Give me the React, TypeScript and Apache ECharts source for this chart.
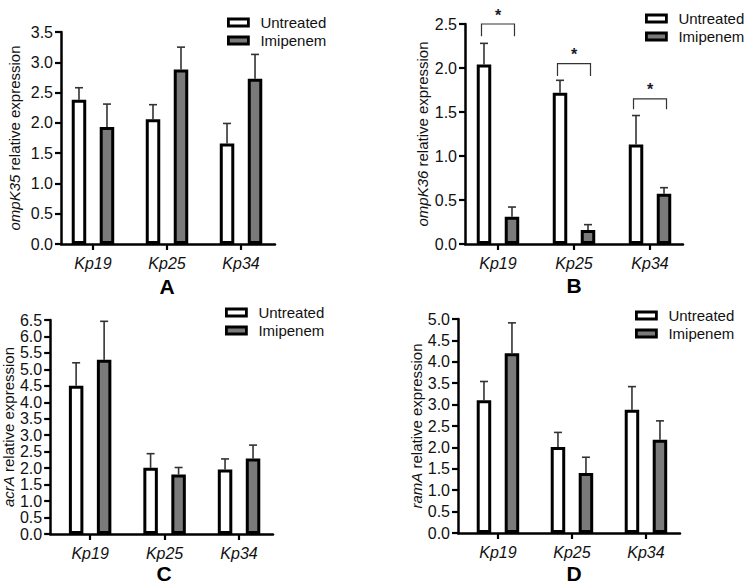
import React, { useEffect, useRef } from 'react';
import * as echarts from 'echarts';

// ---------- data ----------
const strains = ['Kp19', 'Kp25', 'Kp34'];
const groupNames = ['Untreated', 'Imipenem'];
const genes = ['ompK35', 'ompK36', 'acrA', 'ramA'];
const panelLetters = ['A', 'B', 'C', 'D'];
const yMaxes = [3.5, 2.5, 6.5, 5.0];

const ompK35Untreated = [2.38, 2.06, 1.66];
const ompK35UntreatedSD = [0.2, 0.24, 0.33];
const ompK35Imipenem = [1.93, 2.88, 2.73];
const ompK35ImipenemSD = [0.38, 0.37, 0.4];

const ompK36Untreated = [2.04, 1.72, 1.13];
const ompK36UntreatedSD = [0.24, 0.14, 0.33];
const ompK36Imipenem = [0.31, 0.16, 0.57];
const ompK36ImipenemSD = [0.11, 0.06, 0.07];
// significance brackets (panel B): top of bracket and end of its legs
const ompK36BracketTop = [2.5, 2.05, 1.65];
const ompK36BracketLeg = [2.36, 1.91, 1.53];
const ompK36Significance = ['*', '*', '*'];

const acrAUntreated = [4.5, 2.01, 1.96];
const acrAUntreatedSD = [0.7, 0.43, 0.32];
const acrAImipenem = [5.29, 1.81, 2.29];
const acrAImipenemSD = [1.17, 0.21, 0.41];

const ramAUntreated = [3.1, 2.01, 2.88];
const ramAUntreatedSD = [0.44, 0.34, 0.54];
const ramAImipenem = [4.2, 1.4, 2.18];
const ramAImipenemSD = [0.71, 0.37, 0.44];

const untreatedValues = [ompK35Untreated, ompK36Untreated, acrAUntreated, ramAUntreated];
const untreatedSD = [ompK35UntreatedSD, ompK36UntreatedSD, acrAUntreatedSD, ramAUntreatedSD];
const imipenemValues = [ompK35Imipenem, ompK36Imipenem, acrAImipenem, ramAImipenem];
const imipenemSD = [ompK35ImipenemSD, ompK36ImipenemSD, acrAImipenemSD, ramAImipenemSD];

// ---------- layout / style ----------
const FONT = '"Liberation Sans", Arial, Helvetica, sans-serif';
const TEXT = '#111';
const GRAY = '#7a7a7a';
const BAR_W = 14.5;
const BAR_GAP = '93%';
const HALF_PAIR = 14; // centre offset of each bar from the group centre
const CAP = 4;
const BRACKET_HALF = 16.5;

const layout = [
  { grid: { left: 61, top: 32, width: 214, height: 212 }, xMin: -0.432, xMax: 2.459, nameGap: 39, legend: { left: 222, top: 9 }, letter: { x: 167, y: 286 } },
  { grid: { left: 465, top: 24, width: 218, height: 220 }, xMin: -0.434, xMax: 2.434, nameGap: 35, legend: { left: 640, top: 5 }, letter: { x: 574, y: 285 } },
  { grid: { left: 50, top: 320, width: 223, height: 214 }, xMin: -0.537, xMax: 2.456, nameGap: 29, legend: { left: 220, top: 299 }, letter: { x: 164, y: 573 } },
  { grid: { left: 458, top: 319, width: 222, height: 214 }, xMin: -0.54, xMax: 2.46, nameGap: 30, legend: { left: 630, top: 302 }, letter: { x: 574, y: 573 } },
];

function buildOption() {
  const grid: any[] = [];
  const xAxis: any[] = [];
  const yAxis: any[] = [];
  const legend: any[] = [];
  const series: any[] = [];
  const graphic: any[] = [];

  layout.forEach((L, i) => {
    grid.push({ ...L.grid, containLabel: false });
    xAxis.push({
      type: 'value',
      gridIndex: i,
      min: L.xMin,
      max: L.xMax,
      splitLine: { show: false },
      axisLine: { show: true, onZero: false, lineStyle: { color: '#000', width: 2.5 } },
      axisTick: { show: true, customValues: [0, 1, 2], length: 6, lineStyle: { color: '#000', width: 2.2 } },
      axisLabel: {
        customValues: [0, 1, 2],
        formatter: (v: number) => strains[Math.round(v)] ?? '',
        fontFamily: FONT,
        fontSize: 16,
        fontStyle: 'italic',
        color: TEXT,
        margin: 11,
      },
    });
    yAxis.push({
      type: 'value',
      gridIndex: i,
      min: 0,
      max: yMaxes[i],
      interval: 0.5,
      splitLine: { show: false },
      axisLine: { show: true, onZero: false, lineStyle: { color: '#000', width: 2.5 } },
      axisTick: { show: true, length: 6, lineStyle: { color: '#000', width: 2.2 } },
      axisLabel: {
        formatter: (v: number) => v.toFixed(1),
        fontFamily: FONT,
        fontSize: 16,
        lineHeight: 14,
        color: TEXT,
        margin: 8,
        showMinLabel: true,
        showMaxLabel: true,
      },
      name: `{i|${genes[i]}} relative expression`,
      nameLocation: 'middle',
      nameRotate: 90,
      nameGap: L.nameGap,
      nameTextStyle: {
        fontFamily: FONT,
        fontSize: 15,
        color: TEXT,
        rich: { i: { fontFamily: FONT, fontSize: 15, fontStyle: 'italic', color: TEXT } },
      },
    });
    legend.push({
      orient: 'vertical',
      left: L.legend.left,
      top: L.legend.top,
      itemWidth: 20,
      itemHeight: 7,
      itemGap: 1,
      selectedMode: false,
      textStyle: { fontFamily: FONT, fontSize: 15, color: TEXT, lineHeight: 17, padding: [0, 0, 0, 7] },
      data: [
        { name: groupNames[0], icon: 'rect', itemStyle: { color: '#fff', borderColor: '#000', borderWidth: 2.8 } },
        { name: groupNames[1], icon: 'rect', itemStyle: { color: GRAY, borderColor: '#000', borderWidth: 2.8 } },
      ],
    });

    const groupsVals = [untreatedValues[i], imipenemValues[i]];
    const groupsSD = [untreatedSD[i], imipenemSD[i]];
    const fills = ['#fff', GRAY];
    groupsVals.forEach((vals, g) => {
      series.push({
        type: 'bar',
        name: groupNames[g],
        xAxisIndex: i,
        yAxisIndex: i,
        barWidth: BAR_W,
        barGap: BAR_GAP,
        z: 3,
        itemStyle: { color: fills[g], borderColor: '#000', borderWidth: 3 },
        data: vals.map((v, k) => [k, v]),
      });
    });
    series.push({
      type: 'custom',
      xAxisIndex: i,
      yAxisIndex: i,
      z: 2,
      data: groupsVals.flatMap((vals, g) =>
        vals.map((v, k) => [k, v, v + groupsSD[g][k], g === 0 ? -1 : 1])
      ),
      renderItem: (params: any, api: any) => {
        const x = api.value(0);
        const m = api.value(1);
        const hi = api.value(2);
        const side = api.value(3);
        const base = api.coord([x, m]);
        const top = api.coord([x, hi]);
        const cx = base[0] + side * HALF_PAIR;
        const st = { stroke: '#333', lineWidth: 1.6 };
        return {
          type: 'group',
          children: [
            { type: 'line', shape: { x1: cx, y1: base[1], x2: cx, y2: top[1] }, style: st },
            { type: 'line', shape: { x1: cx - CAP, y1: top[1], x2: cx + CAP, y2: top[1] }, style: st },
          ],
        };
      },
    });

    graphic.push({
      type: 'text',
      x: L.letter.x,
      y: L.letter.y,
      style: {
        text: panelLetters[i],
        fontFamily: FONT,
        fontSize: 21,
        fontWeight: 'bold',
        fill: '#000',
        align: 'center',
        verticalAlign: 'middle',
      },
    });
  });

  // significance brackets in panel B
  series.push({
    type: 'custom',
    xAxisIndex: 1,
    yAxisIndex: 1,
    z: 4,
    data: ompK36BracketTop.map((t, k) => [k, t, ompK36BracketLeg[k]]),
    renderItem: (params: any, api: any) => {
      const x = api.value(0);
      const top = api.coord([x, api.value(1)]);
      const leg = api.coord([x, api.value(2)]);
      const l = top[0] - BRACKET_HALF;
      const r = top[0] + BRACKET_HALF;
      return {
        type: 'group',
        children: [
          {
            type: 'polyline',
            shape: { points: [[l, leg[1]], [l, top[1]], [r, top[1]], [r, leg[1]]] },
            style: { stroke: '#333', lineWidth: 1.2, fill: 'none' },
          },
          {
            type: 'text',
            x: top[0],
            y: top[1] - 1,
            style: {
              text: ompK36Significance[params.dataIndex],
              fontFamily: FONT,
              fontSize: 16,
              fontWeight: 'bold',
              fill: '#1a1a2e',
              align: 'center',
              verticalAlign: 'bottom',
            },
          },
        ],
      };
    },
  });

  return {
    animation: false,
    backgroundColor: '#fff',
    grid,
    xAxis,
    yAxis,
    legend,
    series,
    graphic,
  };
}

export default function App() {
  const ref = useRef<HTMLDivElement>(null);
  useEffect(() => {
    if (!ref.current) return;
    const chart = echarts.init(ref.current, undefined, { renderer: 'svg' });
    chart.setOption(buildOption() as any);
    return () => chart.dispose();
  }, []);
  return (
    <div
      ref={ref}
      style={{ position: 'absolute', left: 0, top: 0, width: 750, height: 585, background: '#fff' }}
    />
  );
}
